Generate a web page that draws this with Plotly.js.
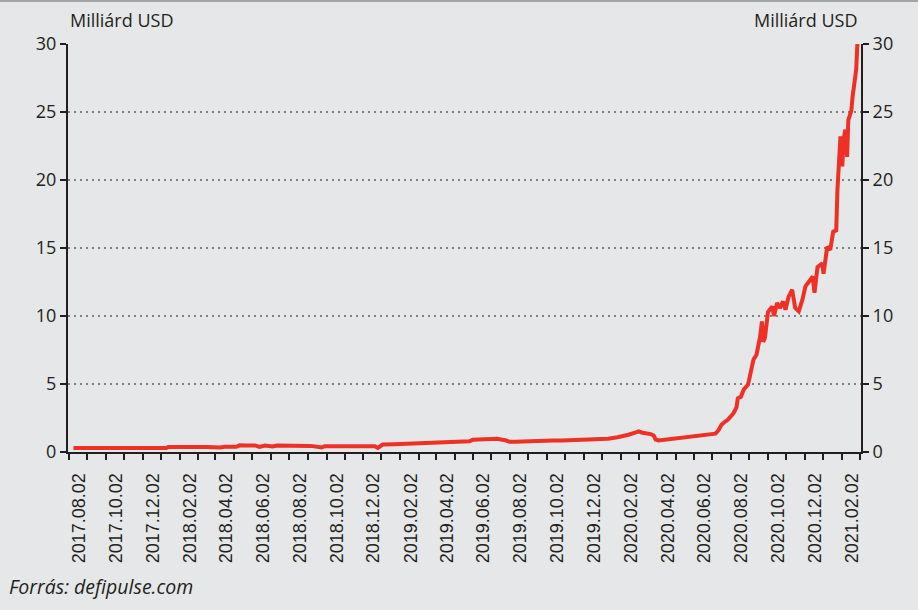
<!DOCTYPE html>
<html>
<head>
<meta charset="utf-8">
<script src="https://cdn.plot.ly/plotly-3.0.1.min.js"></script>
<style>
  html, body { margin: 0; padding: 0; background: #e6e7e8; }
  #chart { width: 918px; height: 610px; }
</style>
</head>
<body>
<div id="chart"></div>
<script>
// Total value locked in DeFi (billion USD)
const dates = [
  "2017-07-23","2017-08-15","2017-09-10","2017-10-05","2017-11-01","2017-12-01","2017-12-24",
  "2017-12-27","2018-01-20","2018-01-30","2018-02-05","2018-03-01","2018-03-23","2018-03-30",
  "2018-04-19","2018-04-24","2018-05-05","2018-05-20","2018-05-27","2018-06-05","2018-06-18",
  "2018-06-25","2018-07-20","2018-08-20","2018-09-07","2018-09-12","2018-10-15","2018-11-15",
  "2018-12-04","2018-12-09","2018-12-17","2019-01-05","2019-01-21","2019-02-15","2019-03-05",
  "2019-03-22","2019-04-08","2019-05-10","2019-05-15","2019-06-05","2019-06-24","2019-07-08",
  "2019-07-15","2019-07-25","2019-08-10","2019-08-28","2019-09-12","2019-09-25","2019-10-10",
  "2019-11-01","2019-11-20","2019-12-10","2019-12-25","2020-01-10","2020-01-20","2020-01-28",
  "2020-02-08","2020-02-14","2020-02-20","2020-02-28","2020-03-05","2020-03-10","2020-03-13",
  "2020-03-18","2020-03-28","2020-04-10","2020-04-25","2020-05-08","2020-05-20","2020-06-01",
  "2020-06-12","2020-06-20","2020-06-25","2020-06-30","2020-07-05","2020-07-10","2020-07-15",
  "2020-07-20","2020-07-25","2020-07-27","2020-08-01","2020-08-06","2020-08-13","2020-08-16",
  "2020-08-22","2020-08-27","2020-08-31","2020-09-02","2020-09-05","2020-09-07","2020-09-10",
  "2020-09-15","2020-09-22","2020-09-25","2020-09-30","2020-10-05","2020-10-10","2020-10-14",
  "2020-10-19","2020-10-25","2020-10-30","2020-11-05","2020-11-11","2020-11-16","2020-11-22",
  "2020-11-28","2020-12-01","2020-12-06","2020-12-14","2020-12-16","2020-12-22","2020-12-27",
  "2021-01-01","2021-01-06","2021-01-08","2021-01-10","2021-01-13","2021-01-16","2021-01-18",
  "2021-01-21","2021-01-24","2021-01-26","2021-01-31","2021-02-02","2021-02-05","2021-02-08",
  "2021-02-10"
];
const tvl = [
  0.29, 0.29, 0.28, 0.29, 0.29, 0.30, 0.30,
  0.37, 0.38, 0.33, 0.38, 0.37, 0.33, 0.38,
  0.38, 0.49, 0.48, 0.48, 0.38, 0.48, 0.40,
  0.47, 0.46, 0.45, 0.33, 0.43, 0.43, 0.43,
  0.42, 0.30, 0.55, 0.57, 0.60, 0.62, 0.66,
  0.71, 0.78, 0.79, 0.90, 0.92, 0.97, 0.86,
  0.75, 0.76, 0.80, 0.80, 0.87, 0.85, 0.85,
  0.87, 0.90, 0.95, 0.98, 1.08, 1.15, 1.27,
  1.42, 1.52, 1.42, 1.35, 1.32, 1.20, 0.92,
  0.85, 0.90, 0.97, 1.05, 1.12, 1.18, 1.25,
  1.28, 1.35, 1.60, 2.00, 2.20, 2.35, 2.60,
  2.85, 3.30, 3.95, 4.05, 4.60, 4.95, 5.50,
  6.80, 7.15, 8.00, 8.50, 9.60, 8.10, 8.40,
  10.30, 10.70, 10.00, 10.96, 10.60, 11.07, 10.46,
  11.40, 11.93, 10.60, 10.34, 11.20, 12.18, 12.54,
  12.90, 11.70, 13.60, 13.87, 13.10, 15.10, 14.85,
  16.20, 16.30, 19.30, 21.20, 23.20, 21.00, 22.90,
  23.70, 21.70, 24.40, 25.10, 26.10, 27.30, 28.10,
  30.00
];
const yTicks = [0, 5, 10, 15, 20, 25, 30];
const unitLabel = "Milliárd USD";
const sourceLabel = "Forrás: defipulse.com";

const ink = "#231f20";
const bg = "#e6e7e8";
const red = "#ee3124";

const traces = [
  {
    x: dates, y: tvl, type: "scatter", mode: "lines",
    line: { color: red, width: 4 },
    hoverinfo: "x+y", showlegend: false
  },
  {
    x: dates, y: tvl, type: "scatter", mode: "lines", yaxis: "y2",
    line: { color: red, width: 0 }, opacity: 0,
    hoverinfo: "skip", showlegend: false
  }
];

const tickFont = { family: "Open Sans, sans-serif", size: 18, color: ink };

const layout = {
  width: 918, height: 610,
  margin: { l: 68, r: 57, t: 44, b: 158, pad: 0 },
  paper_bgcolor: bg, plot_bgcolor: bg,
  showlegend: false,
  xaxis: {
    type: "date",
    range: ["2017-07-14", "2021-02-16"],
    tickmode: "linear", tick0: "2017-08-02", dtick: "M2",
    tickformat: "%Y.%m.%d", tickangle: -90,
    ticks: "", ticklen: 0, ticklabelstandoff: 12,
    tickfont: { family: "Liberation Sans, Arial, sans-serif", size: 18, color: ink },
    showgrid: false, zeroline: false,
    showline: true, linecolor: ink, linewidth: 2,
    minor: { ticks: "outside", ticklen: 6, tickwidth: 2, tickcolor: ink,
             tickmode: "linear", tick0: "2017-07-15", dtick: "M1", showgrid: false },
    fixedrange: true
  },
  yaxis: {
    range: [0, 30], tickvals: yTicks, ticktext: yTicks.map(String),
    ticks: "outside", ticklen: 6, tickwidth: 2, tickcolor: ink,
    tickfont: tickFont,
    showline: true, linecolor: ink, linewidth: 2,
    showgrid: true, gridcolor: "#808080", gridwidth: 1.5, griddash: "2px,4px",
    zeroline: false, fixedrange: true
  },
  yaxis2: {
    overlaying: "y", side: "right",
    range: [0, 30], tickvals: yTicks, ticktext: yTicks.map(String),
    ticks: "outside", ticklen: 6, tickwidth: 2, tickcolor: ink,
    tickfont: tickFont,
    showline: true, linecolor: ink, linewidth: 2,
    showgrid: false, zeroline: false, fixedrange: true
  },
  annotations: [
    { text: unitLabel, xref: "paper", yref: "paper", x: 0.0, y: 1 + 24 / 408,
      xanchor: "left", yanchor: "middle", showarrow: false,
      font: { family: "Open Sans, sans-serif", size: 18, color: ink } },
    { text: unitLabel, xref: "paper", yref: "paper", x: (859 - 68) / 793, y: 1 + 24 / 408,
      xanchor: "right", yanchor: "middle", showarrow: false,
      font: { family: "Open Sans, sans-serif", size: 18, color: ink } },
    { text: "<i>" + sourceLabel + "</i>", xref: "paper", yref: "paper",
      x: (7 - 68) / 793, y: -(586 - 452) / 408,
      xanchor: "left", yanchor: "middle", showarrow: false,
      font: { family: "Open Sans, sans-serif", size: 19.5, color: ink } }
  ],
  shapes: [
    { type: "line", xref: "paper", yref: "paper",
      x0: -68 / 793, x1: 1 + 57 / 793, y0: 1 + 43 / 408, y1: 1 + 43 / 408,
      line: { color: "#a3a4a6", width: 2 } }
  ]
};

Plotly.newPlot("chart", traces, layout, { displayModeBar: false, staticPlot: true });
</script>
</body>
</html>
